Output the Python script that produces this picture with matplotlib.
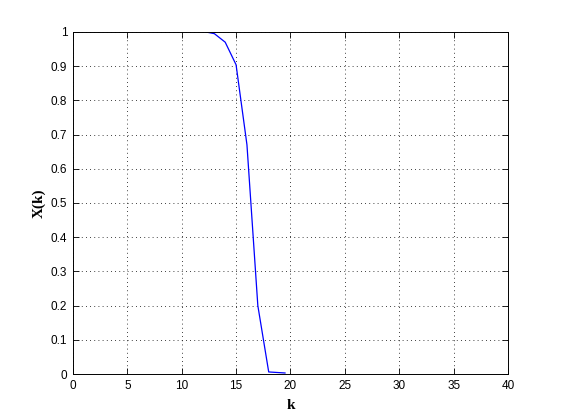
import matplotlib
matplotlib.use('Agg')
import matplotlib.pyplot as plt

# values
k_vals = [12.2, 13, 14, 15, 16, 17, 18, 19.5]
x_vals = [1.0, 0.995, 0.97, 0.904, 0.67, 0.2, 0.006, 0.003]

x_ticks = list(range(0, 41, 5))
y_ticks = [i / 10 for i in range(11)]
y_ticklabels = ['0', '0.1', '0.2', '0.3', '0.4', '0.5', '0.6', '0.7', '0.8', '0.9', '1']

plt.rcParams['font.family'] = ['Liberation Sans', 'DejaVu Sans']

fig = plt.figure(figsize=(5.61, 4.2), dpi=100)
ax = fig.add_axes([0.13, 0.1095, 0.7755, 0.8145])

ax.plot(k_vals, x_vals, color='#0000ff', linewidth=0.9)

ax.set_xlim(0, 40)
ax.set_ylim(0, 1)
ax.set_xticks(x_ticks)
ax.set_yticks(y_ticks)
ax.set_yticklabels(y_ticklabels)
ax.tick_params(direction='in', length=4, width=0.6, labelsize=8.5,
               top=True, right=True, colors='black', pad=4)
ax.grid(True, color='black', linestyle=(0, (1, 4)), linewidth=0.6)
for s in ax.spines.values():
    s.set_linewidth(0.7)

ax.set_xlabel('k', fontsize=11, fontweight='bold', family='Liberation Serif', labelpad=5)
ax.set_ylabel('X(k)', fontsize=11, fontweight='bold', family='Liberation Serif', labelpad=4)

fig.savefig('out.png', dpi=100)
